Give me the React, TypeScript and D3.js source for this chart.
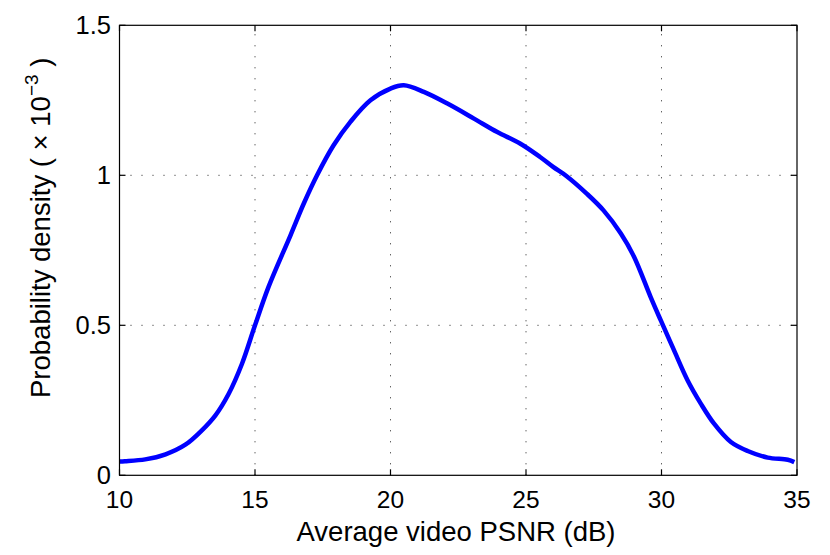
import React from 'react';
import * as d3 from 'd3';

// Estimated density curve (values in units of 1e-3)
const psnr = [
  10.0, 10.2, 10.95, 11.7, 12.43, 13.04, 13.54, 14.03, 14.52, 15.0, 15.5,
  16.31, 16.8, 17.29, 17.9, 18.52, 19.26, 20.0, 20.49, 21.23, 22.1, 23.08,
  23.94, 24.78, 25.52, 26.0, 26.5, 27.24, 27.86, 28.5, 28.99, 29.6,
  29.97, 30.46, 30.96, 31.45, 31.94, 32.56, 33.18, 33.92, 34.66, 34.9,
];
const density = [
  0.046, 0.047, 0.053, 0.07, 0.102, 0.15, 0.2, 0.272, 0.372, 0.5, 0.628,
  0.8, 0.906, 1.0, 1.1, 1.178, 1.25, 1.289, 1.3, 1.278, 1.239, 1.189,
  1.144, 1.106, 1.061, 1.028, 0.997, 0.939, 0.883, 0.806, 0.728, 0.594,
  0.517, 0.417, 0.317, 0.239, 0.172, 0.111, 0.081, 0.059, 0.052, 0.044,
];

const xTicks = [10, 15, 20, 25, 30, 35];
const yTicks = [0, 0.5, 1, 1.5];
const yTickLabels = ['0', '0.5', '1', '1.5'];

const width = 830;
const height = 555;
const left = 119.5;
const right = 797;
const top = 25.3;
const bottom = 475.3;
const font = '"Liberation Sans", Arial, Helvetica, sans-serif';

export default function App() {
  const x = d3.scaleLinear().domain([10, 35]).range([left, right]);
  const y = d3.scaleLinear().domain([0, 1.5]).range([bottom, top]);

  const points: [number, number][] = psnr.map((p, i) => [p, density[i]]);
  const line = d3
    .line<[number, number]>()
    .x((d) => x(d[0]))
    .y((d) => y(d[1]))
    .curve(d3.curveCatmullRom.alpha(0.5));

  const tickLen = 6;

  return (
    <svg
      width={width}
      height={height}
      style={{ position: 'absolute', left: 0, top: 0, background: '#fff' }}
      fontFamily={font}
    >
      <rect x={0} y={0} width={width} height={height} fill="#fff" />

      {/* grid */}
      <g stroke="#222" strokeWidth={1} strokeDasharray="1,10">
        {xTicks.slice(1, -1).map((t) => (
          <line key={'gx' + t} x1={x(t)} x2={x(t)} y1={bottom} y2={top} />
        ))}
        {yTicks.slice(1, -1).map((t) => (
          <line key={'gy' + t} x1={left} x2={right} y1={y(t)} y2={y(t)} />
        ))}
      </g>

      {/* curve */}
      <path
        d={line(points) || ''}
        fill="none"
        stroke="#0000ff"
        strokeWidth={4.5}
        strokeLinejoin="round"
        strokeLinecap="butt"
      />

      {/* box and ticks */}
      <g stroke="#000" strokeWidth={1.2} fill="none">
        <rect x={left} y={top} width={right - left} height={bottom - top} />
        {xTicks.map((t) => (
          <g key={'tx' + t}>
            <line x1={x(t)} x2={x(t)} y1={bottom} y2={bottom - tickLen} />
            <line x1={x(t)} x2={x(t)} y1={top} y2={top + tickLen} />
          </g>
        ))}
        {yTicks.map((t) => (
          <g key={'ty' + t}>
            <line x1={left} x2={left + tickLen} y1={y(t)} y2={y(t)} />
            <line x1={right} x2={right - tickLen} y1={y(t)} y2={y(t)} />
          </g>
        ))}
      </g>

      {/* tick labels */}
      <g fill="#000">
        {xTicks.map((t) => (
          <text key={'lx' + t} x={x(t)} y={508} textAnchor="middle" fontSize={24.5}>
            {t}
          </text>
        ))}
        {yTicks.map((t, i) => (
          <text
            key={'ly' + t}
            x={111}
            y={y(t) + 9}
            textAnchor="end"
            fontSize={25.5}
          >
            {yTickLabels[i]}
          </text>
        ))}
      </g>

      {/* axis labels */}
      <text x={456} y={541} textAnchor="middle" fontSize={27.5} fill="#000">
        Average video PSNR (dB)
      </text>
      <text
        transform="translate(50, 398) rotate(-90)"
        textAnchor="start"
        fontSize={27.5}
        fill="#000"
      >
        Probability density ( × 10
        <tspan fontSize={19} dy={-12}>−3</tspan>
        <tspan dy={12}> )</tspan>
      </text>
    </svg>
  );
}
